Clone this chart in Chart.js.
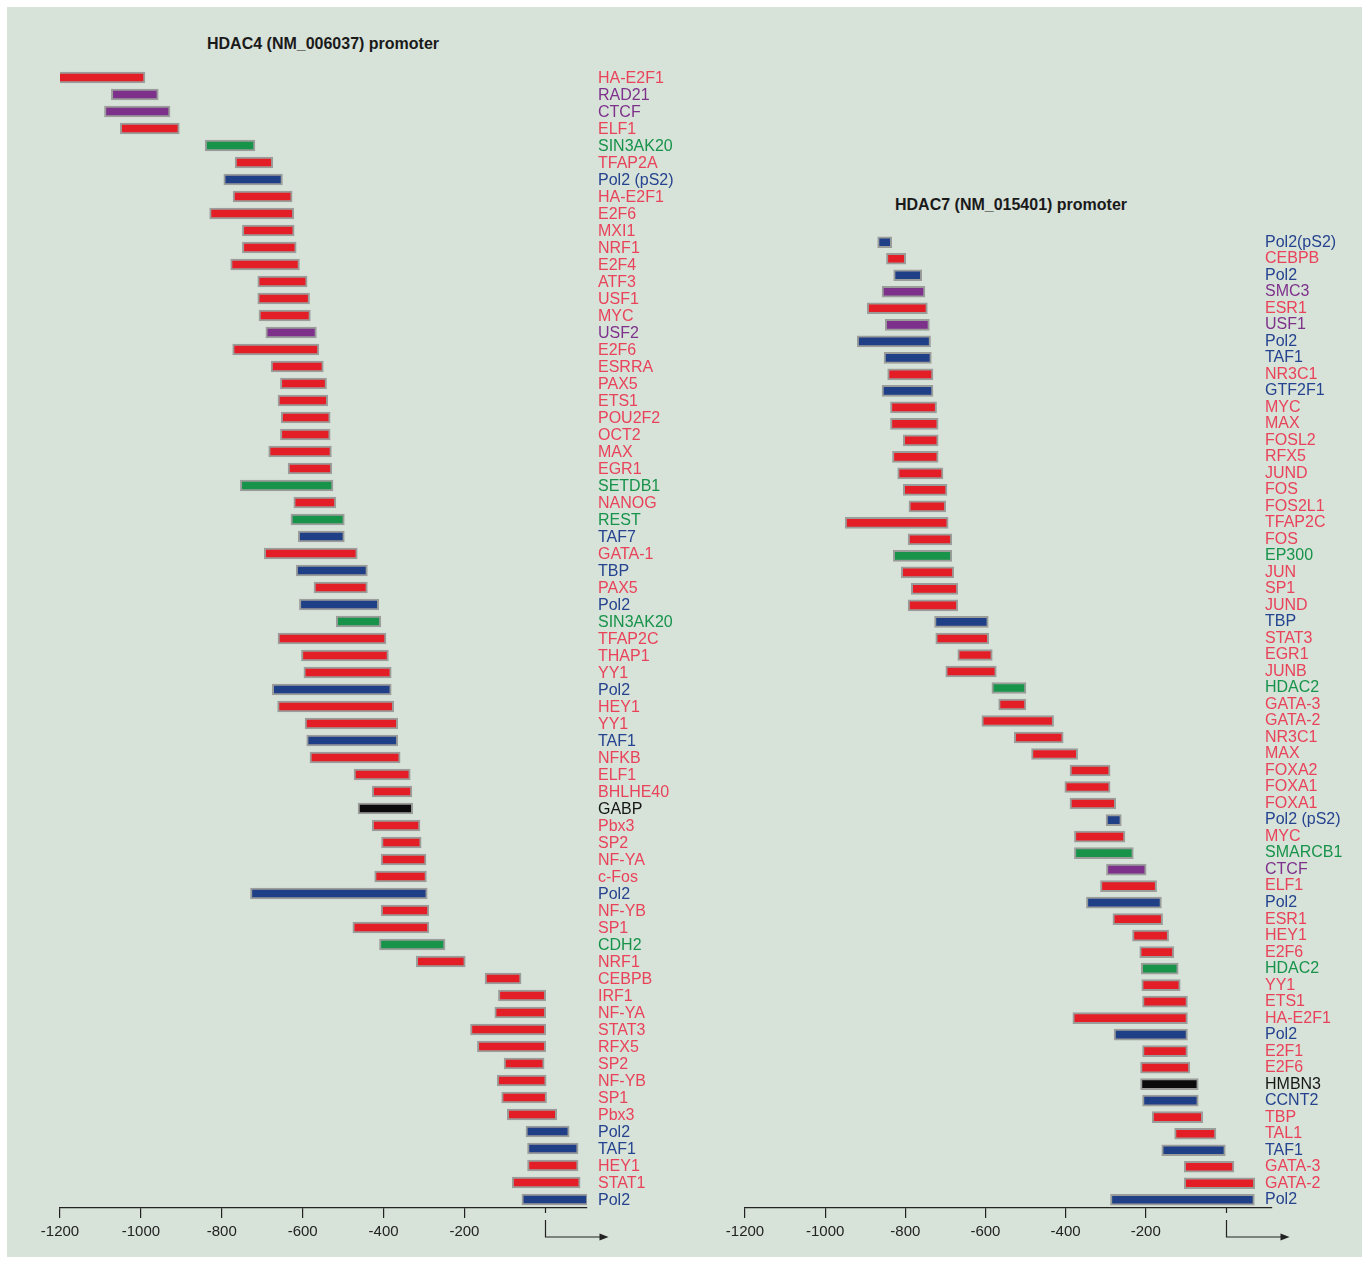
<!DOCTYPE html>
<html lang="en">
<head>
  <meta charset="UTF-8" />
  <title>HDAC4 / HDAC7 promoter binding</title>
  <script src="https://cdn.jsdelivr.net/npm/chart.js"></script>
  <style>
    body { margin: 0; background: #fff; font-family: "Liberation Sans", Arial, sans-serif; }
    #frame { position: absolute; left: 7px; top: 7px; width: 1355px; height: 1250px; background: #d7e2d9; }
    canvas { position: absolute; top: 0; }
    .title { position: absolute; font-weight: bold; font-size: 16px; color: #1a1a1a; white-space: nowrap; }
  </style>
</head>
<body>
  <div id="frame"></div>
  <div class="title" style="left:207px; top:35px;">HDAC4 (NM_006037) promoter</div>
  <div class="title" style="left:895px; top:196px;">HDAC7 (NM_015401) promoter</div>
  <canvas id="hdac4" width="700" height="1263" style="left:0"></canvas>
  <canvas id="hdac7" width="668" height="1263" style="left:700px"></canvas>

  <script>
    // --- HDAC4 promoter: bound regions (bp relative to TSS) ---
    const hdac4Factors = ["HA-E2F1", "RAD21", "CTCF", "ELF1", "SIN3AK20", "TFAP2A", "Pol2 (pS2)", "HA-E2F1", "E2F6", "MXI1",
      "NRF1", "E2F4", "ATF3", "USF1", "MYC", "USF2", "E2F6", "ESRRA", "PAX5", "ETS1",
      "POU2F2", "OCT2", "MAX", "EGR1", "SETDB1", "NANOG", "REST", "TAF7", "GATA-1", "TBP",
      "PAX5", "Pol2", "SIN3AK20", "TFAP2C", "THAP1", "YY1", "Pol2", "HEY1", "YY1", "TAF1",
      "NFKB", "ELF1", "BHLHE40", "GABP", "Pbx3", "SP2", "NF-YA", "c-Fos", "Pol2", "NF-YB",
      "SP1", "CDH2", "NRF1", "CEBPB", "IRF1", "NF-YA", "STAT3", "RFX5", "SP2", "NF-YB",
      "SP1", "Pbx3", "Pol2", "TAF1", "HEY1", "STAT1", "Pol2"];
    const hdac4Start = [-1213, -1073, -1090, -1051, -841, -767, -795, -772, -830, -749,
      -749, -778, -711, -711, -708, -691, -773, -678, -655, -661,
      -653, -655, -684, -636, -754, -622, -629, -611, -695, -616,
      -572, -608, -517, -661, -603, -597, -675, -662, -594, -590,
      -582, -473, -428, -463, -428, -405, -406, -422, -729, -406,
      -476, -410, -319, -149, -116, -125, -185, -168, -102, -119,
      -108, -94, -48, -44, -44, -82, -58];
    const hdac4End = [-990, -957, -928, -905, -718, -674, -650, -626, -622, -621,
      -616, -608, -589, -583, -581, -566, -560, -549, -541, -538,
      -532, -532, -529, -528, -525, -518, -497, -497, -465, -440,
      -440, -412, -407, -394, -388, -381, -381, -375, -365, -365,
      -359, -334, -330, -328, -310, -307, -295, -294, -292, -288,
      -288, -248, -198, -60, 1, 1, 1, 1, -3, 2,
      3, 28, 59, 81, 81, 86, 105];
    // factor class: tf, pol (basal machinery), coh (cohesin/insulator), co (cofactor/repressor), other
    const hdac4Class = ["tf", "coh", "coh", "tf", "co", "tf", "pol", "tf", "tf", "tf",
      "tf", "tf", "tf", "tf", "tf", "coh", "tf", "tf", "tf", "tf",
      "tf", "tf", "tf", "tf", "co", "tf", "co", "pol", "tf", "pol",
      "tf", "pol", "co", "tf", "tf", "tf", "pol", "tf", "tf", "pol",
      "tf", "tf", "tf", "other", "tf", "tf", "tf", "tf", "pol", "tf",
      "tf", "co", "tf", "tf", "tf", "tf", "tf", "tf", "tf", "tf",
      "tf", "tf", "pol", "pol", "tf", "tf", "pol"];

    // --- HDAC7 promoter ---
    const hdac7Factors = ["Pol2(pS2)", "CEBPB", "Pol2", "SMC3", "ESR1", "USF1", "Pol2", "TAF1", "NR3C1", "GTF2F1",
      "MYC", "MAX", "FOSL2", "RFX5", "JUND", "FOS", "FOS2L1", "TFAP2C", "FOS", "EP300",
      "JUN", "SP1", "JUND", "TBP", "STAT3", "EGR1", "JUNB", "HDAC2", "GATA-3", "GATA-2",
      "NR3C1", "MAX", "FOXA2", "FOXA1", "FOXA1", "Pol2 (pS2)", "MYC", "SMARCB1", "CTCF", "ELF1",
      "Pol2", "ESR1", "HEY1", "E2F6", "HDAC2", "YY1", "ETS1", "HA-E2F1", "Pol2", "E2F1",
      "E2F6", "HMBN3", "CCNT2", "TBP", "TAL1", "TAF1", "GATA-3", "GATA-2", "Pol2"];
    const hdac7Start = [-869, -847, -829, -858, -895, -850, -920, -853, -844, -858,
      -837, -837, -805, -832, -819, -805, -791, -950, -793, -830,
      -810, -785, -793, -727, -724, -669, -699, -584, -567, -609,
      -528, -485, -389, -402, -389, -299, -378, -378, -298, -313,
      -348, -282, -233, -215, -211, -210, -208, -382, -279, -208,
      -213, -213, -208, -184, -128, -160, -104, -104, -288];
    const hdac7End = [-834, -799, -759, -751, -745, -740, -737, -735, -731, -731,
      -722, -718, -718, -718, -706, -696, -699, -693, -684, -684,
      -679, -669, -669, -593, -592, -583, -573, -499, -499, -430,
      -406, -370, -289, -289, -275, -261, -252, -231, -199, -173,
      -161, -158, -143, -130, -119, -114, -96, -96, -96, -96,
      -90, -69, -69, -58, -25, 0, 20, 72, 71];
    const hdac7Class = ["pol", "tf", "pol", "coh", "tf", "coh", "pol", "pol", "tf", "pol",
      "tf", "tf", "tf", "tf", "tf", "tf", "tf", "tf", "tf", "co",
      "tf", "tf", "tf", "pol", "tf", "tf", "tf", "co", "tf", "tf",
      "tf", "tf", "tf", "tf", "tf", "pol", "tf", "co", "coh", "tf",
      "pol", "tf", "tf", "tf", "co", "tf", "tf", "tf", "pol", "tf",
      "tf", "other", "pol", "tf", "tf", "pol", "tf", "tf", "pol"];

    const tickValues = [-1200, -1000, -800, -600, -400, -200, 0];

    const barColors = { tf: "#e31e26", pol: "#1f3f87", coh: "#7e318b", co: "#17934a", other: "#0b0b0b" };
    const textColors = { tf: "#e9435a", pol: "#25438f", coh: "#7e318b", co: "#17934a", other: "#161616" };

    function makeChart(id, factors, starts, ends, classes, cfg) {
      // names drawn to the right of the bars, coloured by class
      const factorLabels = {
        id: "factorLabels",
        afterDatasetsDraw(chart) {
          const { ctx, chartArea, scales } = chart;
          ctx.save();
          ctx.font = '16px "Liberation Sans", Arial, sans-serif';
          ctx.textBaseline = "middle";
          factors.forEach((name, i) => {
            ctx.fillStyle = textColors[classes[i]];
            ctx.fillText(name, chartArea.right + cfg.gap, scales.y.getPixelForValue(i) + cfg.nudge(i));
          });
          ctx.restore();
        }
      };
      // transcription start site marker under 0
      const tssArrow = {
        id: "tssArrow",
        afterDraw(chart) {
          const { ctx, chartArea, scales } = chart;
          const x0 = Math.round(scales.x.getPixelForValue(0)) + 0.5;
          const y0 = chartArea.bottom;
          ctx.save();
          ctx.strokeStyle = "#222";
          ctx.fillStyle = "#222";
          ctx.lineWidth = 1.2;
          ctx.beginPath();
          ctx.moveTo(x0, y0); ctx.lineTo(x0, y0 + 5);
          ctx.moveTo(x0, y0 + 12); ctx.lineTo(x0, y0 + 29);
          ctx.lineTo(x0 + 55, y0 + 29);
          ctx.stroke();
          ctx.beginPath();
          ctx.moveTo(x0 + 63, y0 + 29);
          ctx.lineTo(x0 + 54, y0 + 25.5);
          ctx.lineTo(x0 + 54, y0 + 32.5);
          ctx.closePath();
          ctx.fill();
          ctx.restore();
        }
      };

      return new Chart(document.getElementById(id), {
        type: "bar",
        data: {
          labels: factors,
          datasets: [{
            data: starts.map((s, i) => [s, ends[i]]),
            backgroundColor: classes.map(c => barColors[c]),
            borderColor: "#9b9d9b",
            borderWidth: 2,
            borderSkipped: false,
            barThickness: 11
          }]
        },
        options: {
          indexAxis: "y",
          responsive: false,
          animation: false,
          layout: { padding: cfg.padding },
          plugins: { legend: { display: false }, tooltip: { enabled: false } },
          scales: {
            x: {
              type: "linear",
              min: -1200,
              max: cfg.max,
              afterBuildTicks: axis => { axis.ticks = tickValues.map(v => ({ value: v })); },
              grid: {
                drawOnChartArea: false,
                tickLength: 10,
                lineWidth: 1.2,
                color: c => (c.tick && c.tick.value === 0 ? "rgba(0,0,0,0)" : "#222")
              },
              border: { display: true, color: "#222", width: 1.2 },
              ticks: {
                autoSkip: false,
                maxRotation: 0,
                padding: 5,
                color: "#222",
                font: { family: '"Liberation Sans", Arial, sans-serif', size: 15 },
                callback: v => (v === 0 ? "" : v)
              }
            },
            y: { display: false, offset: true }
          }
        },
        plugins: [factorLabels, tssArrow]
      });
    }

    makeChart("hdac4", hdac4Factors, hdac4Start, hdac4End, hdac4Class, {
      max: 103, gap: 11, nudge: i => 1,
      padding: { left: 60, right: 113, top: 69, bottom: 17 }
    });
    makeChart("hdac7", hdac7Factors, hdac7Start, hdac7End, hdac7Class, {
      max: 115, gap: -7, nudge: i => 0,
      padding: { left: 45, right: 96, top: 234, bottom: 17 }
    });
  </script>
</body>
</html>
